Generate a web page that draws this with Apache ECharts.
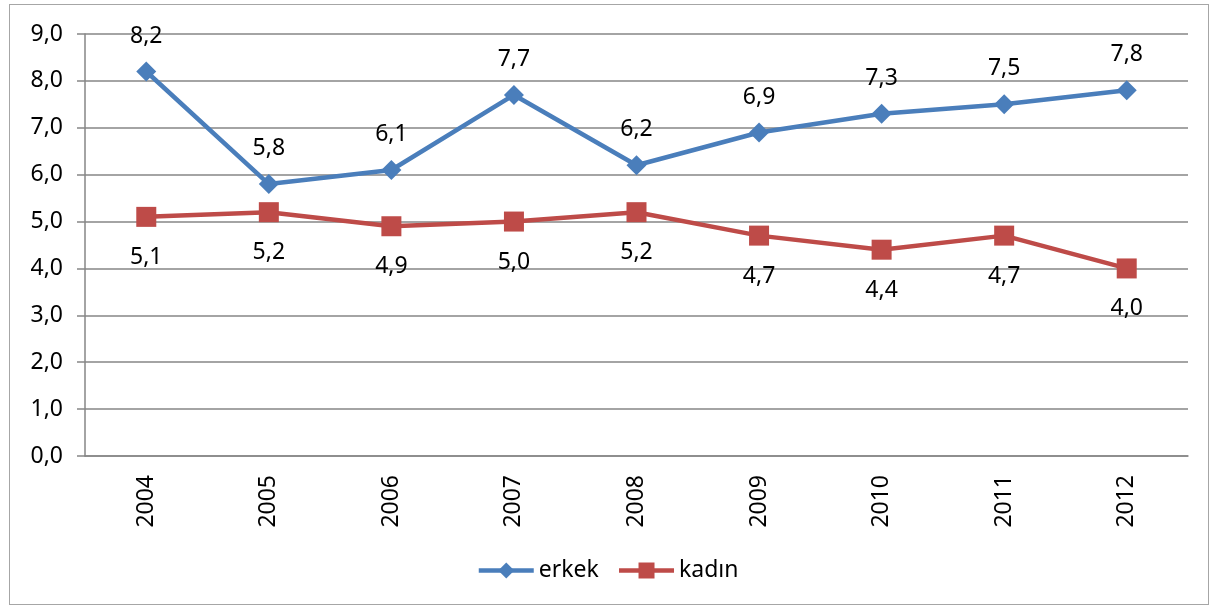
<!DOCTYPE html>
<html>
<head>
<meta charset="utf-8">
<script src="https://cdn.jsdelivr.net/npm/echarts@6/dist/echarts.min.js"></script>
<style>
    html, body { margin: 0; padding: 0; background: #fff; }
    #frame { position: absolute; left: 9px; top: 4px; width: 1200px; height: 601px; border: 1px solid #a6a6a6; box-sizing: border-box; }
    #main { position: absolute; left: 0; top: 0; width: 1215px; height: 608px; }
</style>
</head>
<body>
<div id="frame"></div>
<div id="main"></div>
<script>
const years = ['2004', '2005', '2006', '2007', '2008', '2009', '2010', '2011', '2012']
const erkek = [8.2, 5.8, 6.1, 7.7, 6.2, 6.9, 7.3, 7.5, 7.8]
const kadin = [5.1, 5.2, 4.9, 5.0, 5.2, 4.7, 4.4, 4.7, 4.0]

const fmt = v => v.toFixed(1).replace('.', ',');
const font = 'Noto Sans';

(function () {
    const myChart = echarts.init(document.getElementById('main'))
    const option = {
        animation: false,
        textStyle: { fontFamily: font },
        grid: {
            left: 85,
            right: 27,
            top: 34,
            bottom: 152
        },
        legend: {
            top: 554,
            left: 'center',
            itemWidth: 55,
            itemHeight: 20,
            itemGap: 18,
            lineStyle: { width: 4.5 },
            textStyle: { fontSize: 23, color: '#000', fontFamily: font },
            data: ['erkek', 'kadın']
        },
        xAxis: {
            type: 'category',
            data: years,
            axisLine: { lineStyle: { color: '#868686', width: 1.5 } },
            axisTick: { length: 8, lineStyle: { color: '#868686', width: 1.5 } },
            axisLabel: { rotate: 90, fontSize: 23, color: '#000', margin: 19 }
        },
        yAxis: {
            type: 'value',
            min: 0,
            max: 9,
            interval: 1,
            axisLine: { show: true, lineStyle: { color: '#868686', width: 1.5 } },
            axisTick: { show: true, length: 8, lineStyle: { color: '#868686', width: 1.5 } },
            axisLabel: { fontSize: 23, color: '#000', margin: 22, formatter: fmt },
            splitLine: { lineStyle: { color: '#868686', width: 1.5 } }
        },
        series: [
            {
                name: 'erkek',
                type: 'line',
                data: erkek,
                symbol: 'diamond',
                symbolSize: 20,
                color: '#4a7ebb',
                lineStyle: { width: 4.5, color: '#4a7ebb' },
                label: {
                    show: true,
                    position: 'top',
                    distance: 14,
                    fontSize: 23,
                    color: '#000',
                    formatter: p => fmt(p.value)
                }
            },
            {
                name: 'kadın',
                type: 'line',
                data: kadin,
                symbol: 'rect',
                symbolSize: 20,
                color: '#be4b48',
                lineStyle: { width: 4.5, color: '#be4b48' },
                label: {
                    show: true,
                    position: 'bottom',
                    distance: 19,
                    fontSize: 23,
                    color: '#000',
                    formatter: p => fmt(p.value)
                }
            }
        ]
    };
    myChart.setOption(option);
    window.addEventListener('resize', () => {
        myChart.resize();
    })
})();
</script>
</body>
</html>
